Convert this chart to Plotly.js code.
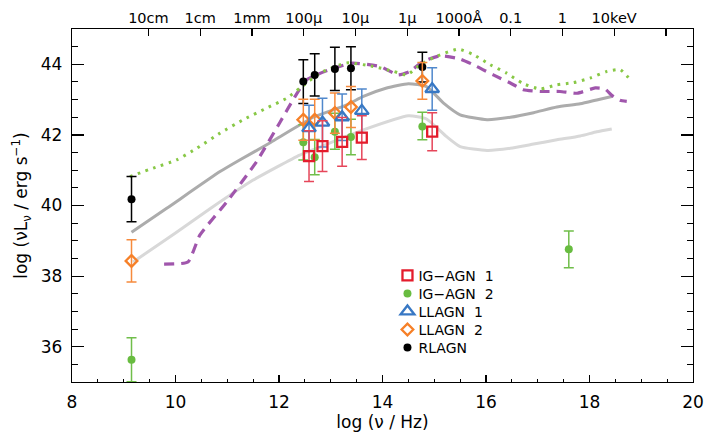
<!DOCTYPE html>
<html>
<head>
<meta charset="utf-8">
<script src="https://cdn.plot.ly/plotly-3.0.1.min.js"></script>
<style>html,body{margin:0;padding:0;background:#fff;}#chart{width:704px;height:442px;}</style>
</head>
<body>
<div id="chart"></div>
<script>
// ---------- data ----------
// model SED curves
const greyDarkX = [9.15, 9.83, 10.86, 11.24, 11.82, 12.02, 12.40, 12.66, 13.31, 13.63, 14.08, 14.50, 14.85, 15.18, 15.50, 16.02, 16.47, 16.92, 17.37, 17.82, 18.14, 18.43];
const greyDarkY = [39.24, 39.92, 40.96, 41.29, 41.77, 41.95, 42.28, 42.50, 42.85, 43.09, 43.33, 43.45, 43.37, 42.90, 42.57, 42.43, 42.50, 42.63, 42.79, 42.88, 42.99, 43.09];
const greyLightX = [9.18, 10.00, 10.66, 11.50, 12.40, 12.66, 13.63, 14.50, 14.85, 15.24, 15.50, 16.02, 16.47, 16.92, 17.37, 17.82, 18.14, 18.43];
const greyLightY = [38.40, 39.22, 39.90, 40.72, 41.43, 41.58, 42.14, 42.54, 42.45, 41.95, 41.67, 41.56, 41.62, 41.74, 41.86, 41.97, 42.09, 42.17];
const dashedX = [9.78, 10.24, 10.47, 10.99, 11.57, 12.02, 12.27, 12.53, 12.98, 13.40, 13.95, 14.30, 14.53, 14.78, 15.11, 15.50, 15.82, 16.14, 16.47, 16.72, 17.05, 17.43, 17.76, 18.11, 18.30, 18.43, 18.59, 18.72];
const dashedY = [38.34, 38.40, 39.16, 40.10, 41.25, 42.36, 42.99, 43.56, 43.85, 44.03, 43.94, 43.70, 43.80, 44.08, 44.24, 44.15, 43.94, 43.70, 43.47, 43.28, 43.23, 43.23, 43.18, 43.33, 43.30, 43.12, 42.98, 42.95];
const dottedX = [9.12, 9.57, 10.02, 10.41, 10.86, 11.31, 11.76, 12.15, 12.41, 12.79, 13.31, 13.82, 14.21, 14.47, 14.73, 15.05, 15.47, 15.76, 16.08, 16.40, 16.72, 17.05, 17.37, 17.69, 18.01, 18.34, 18.59, 18.79];
const dottedY = [40.82, 41.06, 41.29, 41.62, 42.05, 42.43, 42.76, 43.04, 43.33, 43.75, 44.04, 43.94, 43.80, 43.70, 43.99, 44.23, 44.43, 44.27, 43.99, 43.75, 43.45, 43.30, 43.42, 43.48, 43.61, 43.80, 43.85, 43.56];

// observed points
const igagn1X = [12.58, 12.84, 13.22, 13.60, 14.96];
const igagn1Y = [41.40, 41.68, 41.80, 41.92, 42.09];
const igagn1Err = [0.72, 0.72, 0.69, 0.62, 0.54];

const igagn2X = [9.15, 12.47, 12.69, 13.08, 13.39, 14.77, 17.60];
const igagn2Y = [35.63, 41.79, 41.37, 42.09, 41.94, 42.24, 38.76];
const igagn2ErrUp = [0.62, 0.50, 0.50, 0.52, 0.50, 0.40, 0.52];
const igagn2ErrDn = [0.62, 0.50, 0.50, 0.50, 0.50, 0.38, 0.52];

const llagn1X = [12.58, 12.84, 13.22, 13.60, 14.96];
const llagn1Y = [42.19, 42.35, 42.50, 42.68, 43.30];
const llagn1Err = [0.65, 0.69, 0.66, 0.62, 0.60];

const llagn2X = [9.15, 12.47, 12.69, 13.08, 13.39, 14.77];
const llagn2Y = [38.43, 42.43, 42.43, 42.62, 42.79, 43.53];
const llagn2Err = [0.60, 0.58, 0.58, 0.57, 0.58, 0.52];

const rlagnX = [9.15, 12.47, 12.69, 13.08, 13.39, 14.77];
const rlagnY = [40.18, 43.51, 43.70, 43.87, 43.89, 43.92];
const rlagnErr = [0.64, 0.62, 0.60, 0.61, 0.61, 0.42];

// top axis (wavelength / energy) ticks
const topTickVals = [9.477, 10.477, 11.477, 12.477, 13.477, 14.477, 15.477, 16.477, 17.477, 18.477];
const topTickText = ['10cm', '1cm', '1mm', '100\u03bc', '10\u03bc', '1\u03bc', '1000\u00c5', '0.1', '1', '10keV'];
const topExtraTick = [19.477];

const legendNames = ['IG\u2212AGN\u00a0\u00a01', 'IG\u2212AGN\u00a0\u00a02', 'LLAGN\u00a0\u00a01', 'LLAGN\u00a0\u00a02', 'RLAGN'];

// ---------- traces ----------
const FONT = 'DejaVu Sans, Liberation Sans, sans-serif';
function curve(x, y, color, width, dash) {
  return {x: x, y: y, type: 'scatter', mode: 'lines', showlegend: false, hoverinfo: 'skip',
          line: {color: color, width: width, dash: dash, shape: 'spline', smoothing: 0.5}};
}
function errs(up, dn, color) {
  return {type: 'data', symmetric: dn === undefined, array: up, arrayminus: dn,
          width: 5, thickness: 1.5, color: color};
}

const traces = [
  curve(greyLightX, greyLightY, 'rgb(216,216,216)', 3, 'solid'),
  curve(greyDarkX, greyDarkY, 'rgb(172,172,172)', 3, 'solid'),
  curve(dashedX, dashedY, 'rgb(160,86,172)', 3.2, '10px,7px'),
  curve(dottedX, dottedY, 'rgb(136,200,70)', 3, '2.6px,5.6px'),
  {x: rlagnX, y: rlagnY, name: legendNames[4], legendrank: 5, type: 'scatter', mode: 'markers',
   marker: {symbol: 'circle', size: 8, color: 'black'},
   error_y: errs(rlagnErr, undefined, 'black')},
  {x: igagn2X, y: igagn2Y, name: legendNames[1], legendrank: 2, type: 'scatter', mode: 'markers',
   marker: {symbol: 'circle', size: 8, color: 'rgb(104,188,64)'},
   error_y: errs(igagn2ErrUp, igagn2ErrDn, 'rgb(112,190,74)')},
  {x: llagn2X, y: llagn2Y, name: legendNames[3], legendrank: 4, type: 'scatter', mode: 'markers',
   marker: {symbol: 'diamond-open', size: 9, color: 'rgb(246,128,40)', line: {width: 2.3}},
   error_y: errs(llagn2Err, undefined, 'rgb(246,138,60)')},
  {x: llagn1X, y: llagn1Y, name: legendNames[2], legendrank: 3, type: 'scatter', mode: 'markers',
   marker: {symbol: 'triangle-up-open', size: 12, color: 'rgb(56,120,196)', line: {width: 2.3}},
   error_y: errs(llagn1Err, undefined, 'rgb(80,136,204)')},
  {x: igagn1X, y: igagn1Y, name: legendNames[0], legendrank: 1, type: 'scatter', mode: 'markers',
   marker: {symbol: 'square-open', size: 10, color: 'rgb(228,28,44)', line: {width: 2.3}},
   error_y: errs(igagn1Err, undefined, 'rgb(230,70,90)')}
];

// invisible helpers so the two top axes are built
traces.push({x: [8], y: [35], xaxis: 'x2', yaxis: 'y', type: 'scatter', mode: 'markers',
             marker: {opacity: 0}, showlegend: false, hoverinfo: 'skip'});
traces.push({x: [8], y: [35], xaxis: 'x3', yaxis: 'y', type: 'scatter', mode: 'markers',
             marker: {opacity: 0}, showlegend: false, hoverinfo: 'skip'});

const topAxisBase = {range: [8, 20], overlaying: 'x', side: 'top', anchor: 'y', tickmode: 'array',
                     ticks: 'inside', ticklen: 7, tickwidth: 1.2, tickcolor: 'black', showline: false,
                     showgrid: false, zeroline: false};

const layout = {
  width: 704, height: 442,
  margin: {l: 72, r: 11, t: 29, b: 60, pad: 0},
  paper_bgcolor: 'white', plot_bgcolor: 'white',
  font: {family: FONT, size: 17, color: 'black'},
  showlegend: true,
  legend: {x: 0.508, xanchor: 'left', y: 0.346, yanchor: 'top', bgcolor: 'rgba(0,0,0,0)',
           font: {family: FONT, size: 14, color: 'black'}, tracegroupgap: 0, itemwidth: 30},
  xaxis: {range: [8, 20], tickmode: 'linear', tick0: 8, dtick: 2, ticks: 'inside', ticklen: 7,
          tickwidth: 1.2, tickcolor: 'black', showline: true, linecolor: 'black', linewidth: 1.3,
          mirror: true, showgrid: false, zeroline: false, ticklabelstandoff: 4,
          tickfont: {family: FONT, size: 17},
          minor: {dtick: 0.5, ticks: 'inside', ticklen: 3.5, tickwidth: 1, tickcolor: 'black', showgrid: false},
          title: {text: 'log (\u03bd / Hz)', font: {family: FONT, size: 17}, standoff: 5}},
  xaxis2: Object.assign({}, topAxisBase, {tickvals: topTickVals, ticktext: topTickText,
           ticklabelstandoff: 2, tickfont: {family: FONT, size: 14.5}}),
  xaxis3: Object.assign({}, topAxisBase, {tickvals: topExtraTick, showticklabels: false}),
  yaxis: {range: [35, 45], tickmode: 'linear', tick0: 36, dtick: 2, ticks: 'inside', ticklen: 12,
          tickwidth: 1.2, tickcolor: 'black', showline: true, linecolor: 'black', linewidth: 1.3,
          mirror: 'ticks', showgrid: false, zeroline: false, ticklabelstandoff: 5,
          tickfont: {family: FONT, size: 17},
          minor: {dtick: 0.5, ticks: 'inside', ticklen: 6, tickwidth: 1, tickcolor: 'black', showgrid: false},
          title: {text: 'log (\u03bdL<sub>\u03bd</sub> / erg s<sup>\u22121</sup>)', font: {family: FONT, size: 17}, standoff: 8}}
};

// legend rows are packed tighter and the text sits closer to the symbol, as in the original figure
const LEGEND_STEP = 18;
const LEGEND_TEXT_X = 31;

Plotly.newPlot('chart', traces, layout, {staticPlot: true, displayModeBar: false}).then(function (gd) {
  const items = gd.querySelectorAll('.legend .traces');
  let x0 = 0, y0 = null;
  items.forEach(function (g, i) {
    const m = /translate\(\s*([-\d.]+)[ ,]+([-\d.]+)\s*\)/.exec(g.getAttribute('transform') || '');
    if (m && y0 === null) { x0 = parseFloat(m[1]); y0 = parseFloat(m[2]); }
    if (y0 !== null) g.setAttribute('transform', 'translate(' + x0 + ',' + (y0 + i * LEGEND_STEP) + ')');
    const t = g.querySelector('.legendtext');
    if (t) t.setAttribute('x', LEGEND_TEXT_X);
  });
});
</script>
</body>
</html>
